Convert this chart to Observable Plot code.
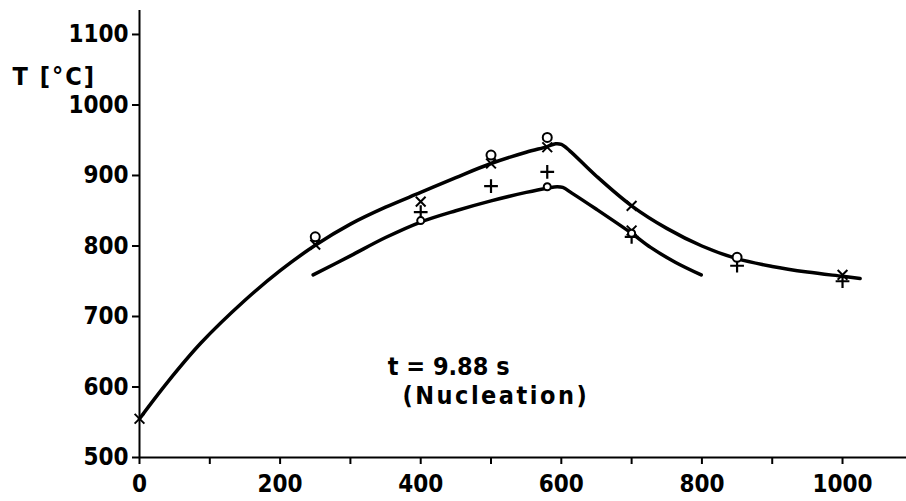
<!DOCTYPE html>
<html>
<head>
<meta charset="utf-8">
<script src="https://cdn.jsdelivr.net/npm/d3@7"></script>
<script src="https://cdn.jsdelivr.net/npm/@observablehq/plot@0.6"></script>
<style>
  body { margin: 0; background: #fff; }
</style>
</head>
<body>
<div id="chart"></div>
<script>
// Upper fitted curve (x, T)
const upperX = [0, 40, 87, 150, 200, 250, 300, 350, 400, 450, 500, 550, 580, 592, 600, 612, 650, 700, 750, 800, 850, 900, 950, 1000, 1025];
const upperT = [555, 607, 662, 723, 765, 801, 831, 855, 876, 897, 917, 933, 941, 945, 944, 935, 899, 857, 825, 800, 782, 771, 763, 757, 754];
// Lower fitted curve
const lowerX = [247, 300, 350, 400, 450, 500, 550, 580, 594, 602, 615, 650, 700, 727, 762, 799];
const lowerT = [759, 786, 812, 834, 850, 864, 876, 882, 884, 883, 875, 852, 818, 798, 777, 759];
// Measured points by symbol
const circleX = [250, 500, 580, 850];
const circleT = [813, 929, 954, 784];
const timesX = [0, 250, 400, 500, 580, 700, 1000, 700];
const timesT = [555, 802, 863, 917, 940, 857, 759, 822];
const plusX = [400, 500, 580, 850, 1000, 700];
const plusT = [848, 885, 905, 772, 750, 813];
const smallX = [400, 580, 700];
const smallT = [836, 884, 818];
// Axis ticks
const xTicks = [0, 100, 200, 300, 400, 500, 600, 700, 800, 900, 1000];
const yTicks = [500, 600, 700, 800, 900, 1000, 1100];
// Texts
const yLabel = "T [°C]";
const notes = ["t = 9.88 s", "(Nucleation)"];
const noteX = [353, 374];
const noteT = [629, 587];

const upper = upperX.map((x, i) => ({x, t: upperT[i]}));
const lower = lowerX.map((x, i) => ({x, t: lowerT[i]}));
const pts = (xs, ts) => xs.map((x, i) => ({x, t: ts[i]}));

const chart = Plot.plot({
  width: 906,
  height: 501,
  marginLeft: 139,
  marginRight: 0,
  marginTop: 10,
  marginBottom: 44,
  style: {fontFamily: "'DejaVu Sans Condensed', 'DejaVu Sans', sans-serif", fontSize: "24px", fontWeight: "bold", color: "#000", background: "#fff"},
  x: {domain: [0, 1091]},
  y: {domain: [500, 1134]},
  marks: [
    Plot.axisX({ticks: xTicks, tickSize: 7, tickPadding: 10, strokeWidth: 2, tickFormat: d => (d % 200 === 0 ? String(d) : ""), label: null}),
    Plot.axisY({ticks: yTicks, tickSize: 7, tickPadding: 4, strokeWidth: 2, tickFormat: d => String(d), label: null}),
    Plot.ruleY([500], {strokeWidth: 2}),
    Plot.ruleX([0], {y1: 500, y2: 1134, strokeWidth: 2}),
    Plot.line(upper, {x: "x", y: "t", curve: "catmull-rom", strokeWidth: 3.5, stroke: "#000"}),
    Plot.line(lower, {x: "x", y: "t", curve: "catmull-rom", strokeWidth: 3.5, stroke: "#000"}),
    Plot.dot(pts(timesX, timesT), {x: "x", y: "t", symbol: "times", r: 4.5, stroke: "#000", strokeWidth: 2}),
    Plot.dot(pts(plusX, plusT), {x: "x", y: "t", symbol: "plus", r: 4.5, stroke: "#000", strokeWidth: 2.2}),
    Plot.dot(pts(smallX, smallT), {x: "x", y: "t", symbol: "circle", r: 3.5, fill: "#fff", stroke: "#000", strokeWidth: 2}),
    Plot.dot(pts(circleX, circleT), {x: "x", y: "t", symbol: "circle", r: 4.5, fill: "#fff", stroke: "#000", strokeWidth: 2}),
    Plot.text(notes.map((s, i) => ({s, x: noteX[i], t: noteT[i]})), {x: "x", y: "t", text: "s", textAnchor: "start", fontSize: 25}),
    Plot.text([yLabel], {text: d => d, frameAnchor: "top-left", dx: -127, dy: 57, textAnchor: "start", fontSize: 25})
  ]
});
// letter spacing for the annotation lines, to match the lettering width of the original
d3.select(chart).selectAll("text").filter(function() { return this.textContent === notes[1]; }).style("letter-spacing", "2.5px");
d3.select(chart).selectAll("text").filter(function() { return this.textContent === yLabel; }).style("letter-spacing", "2px");
document.getElementById("chart").appendChild(chart);
</script>
</body>
</html>
